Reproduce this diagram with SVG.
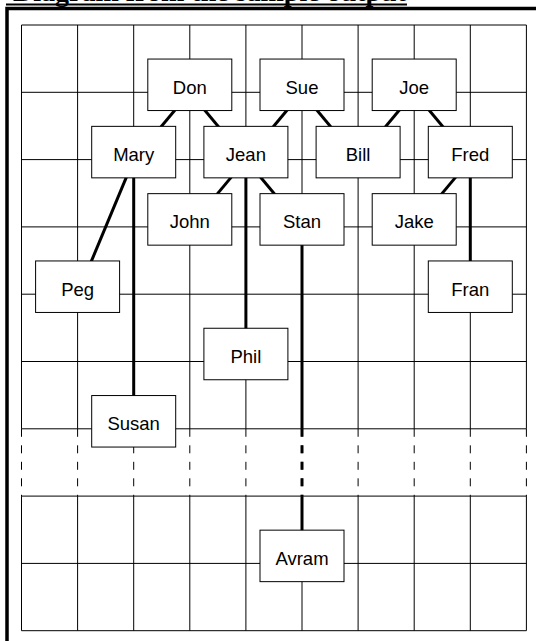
<svg xmlns="http://www.w3.org/2000/svg" width="536" height="641" viewBox="0 0 536 641">
<style>
.grid line{stroke:#000;stroke-width:1}
.dash line{stroke:#000;stroke-width:1;stroke-dasharray:8 8.5}
.conn line{stroke:#000;stroke-width:3}
.node rect{fill:#fff;stroke:#000;stroke-width:1}
.node text{font-family:"Liberation Sans",Arial,sans-serif;font-size:18.5px;text-anchor:middle;fill:#000}
.title{font-family:"Liberation Serif","Times New Roman",serif;font-weight:bold;font-size:28px;fill:#000}
</style>
<rect width="536" height="641" fill="#fff"/>
<text class="title" x="13" y="0.5">Diagram from the sample output</text>
<line x1="6" y1="4.5" x2="407" y2="4.5" stroke="#000" stroke-width="2"/>
<path d="M7 641 V8.5 H536" fill="none" stroke="#000" stroke-width="3.5"/>
<g id="grid" class="grid">
<line x1="21.5" y1="25" x2="526.4" y2="25"/>
<line x1="21.5" y1="92.3" x2="526.4" y2="92.3"/>
<line x1="21.5" y1="159.6" x2="526.4" y2="159.6"/>
<line x1="21.5" y1="226.9" x2="526.4" y2="226.9"/>
<line x1="21.5" y1="294.2" x2="526.4" y2="294.2"/>
<line x1="21.5" y1="361.5" x2="526.4" y2="361.5"/>
<line x1="21.5" y1="428.8" x2="526.4" y2="428.8"/>
<line x1="21.5" y1="496.1" x2="526.4" y2="496.1"/>
<line x1="21.5" y1="563.4" x2="526.4" y2="563.4"/>
<line x1="21.5" y1="630.7" x2="526.4" y2="630.7"/>
<line x1="21.5" y1="25" x2="21.5" y2="428.8"/><line x1="21.5" y1="496.1" x2="21.5" y2="630.7"/>
<line x1="77.6" y1="25" x2="77.6" y2="428.8"/><line x1="77.6" y1="496.1" x2="77.6" y2="630.7"/>
<line x1="133.7" y1="25" x2="133.7" y2="428.8"/><line x1="133.7" y1="496.1" x2="133.7" y2="630.7"/>
<line x1="189.8" y1="25" x2="189.8" y2="428.8"/><line x1="189.8" y1="496.1" x2="189.8" y2="630.7"/>
<line x1="245.9" y1="25" x2="245.9" y2="428.8"/><line x1="245.9" y1="496.1" x2="245.9" y2="630.7"/>
<line x1="302" y1="25" x2="302" y2="428.8"/><line x1="302" y1="496.1" x2="302" y2="630.7"/>
<line x1="358.1" y1="25" x2="358.1" y2="428.8"/><line x1="358.1" y1="496.1" x2="358.1" y2="630.7"/>
<line x1="414.2" y1="25" x2="414.2" y2="428.8"/><line x1="414.2" y1="496.1" x2="414.2" y2="630.7"/>
<line x1="470.3" y1="25" x2="470.3" y2="428.8"/><line x1="470.3" y1="496.1" x2="470.3" y2="630.7"/>
<line x1="526.4" y1="25" x2="526.4" y2="428.8"/><line x1="526.4" y1="496.1" x2="526.4" y2="630.7"/>
</g>
<g id="grid-dashed" class="dash">
<line x1="21.5" y1="428.8" x2="21.5" y2="496.1"/>
<line x1="77.6" y1="428.8" x2="77.6" y2="496.1"/>
<line x1="133.7" y1="428.8" x2="133.7" y2="496.1"/>
<line x1="189.8" y1="428.8" x2="189.8" y2="496.1"/>
<line x1="245.9" y1="428.8" x2="245.9" y2="496.1"/>
<line x1="302" y1="428.8" x2="302" y2="496.1"/>
<line x1="358.1" y1="428.8" x2="358.1" y2="496.1"/>
<line x1="414.2" y1="428.8" x2="414.2" y2="496.1"/>
<line x1="470.3" y1="428.8" x2="470.3" y2="496.1"/>
<line x1="526.4" y1="428.8" x2="526.4" y2="496.1"/>
</g>
<g id="connectors" class="conn">
<line x1="189.8" y1="92.3" x2="133.7" y2="159.6"/>
<line x1="189.8" y1="92.3" x2="245.9" y2="159.6"/>
<line x1="302" y1="92.3" x2="245.9" y2="159.6"/>
<line x1="302" y1="92.3" x2="358.1" y2="159.6"/>
<line x1="414.2" y1="92.3" x2="358.1" y2="159.6"/>
<line x1="414.2" y1="92.3" x2="470.3" y2="159.6"/>
<line x1="133.7" y1="159.6" x2="77.6" y2="294.2"/>
<line x1="133.7" y1="159.6" x2="133.7" y2="428.8"/>
<line x1="245.9" y1="159.6" x2="189.8" y2="226.9"/>
<line x1="245.9" y1="159.6" x2="302" y2="226.9"/>
<line x1="245.9" y1="159.6" x2="245.9" y2="361.5"/>
<line x1="470.3" y1="159.6" x2="414.2" y2="226.9"/>
<line x1="470.3" y1="159.6" x2="470.3" y2="294.2"/>
<line x1="302" y1="226.9" x2="302" y2="428.8"/>
<line x1="302" y1="428.8" x2="302" y2="496.1" stroke-dasharray="8 8.5"/>
<line x1="302" y1="496.1" x2="302" y2="563.4"/>
</g>
<g id="don" class="node"><rect x="147.8" y="59.05" width="84" height="51.5"/><text x="189.8" y="93.8">Don</text></g>
<g id="sue" class="node"><rect x="260" y="59.05" width="84" height="51.5"/><text x="302" y="93.8">Sue</text></g>
<g id="joe" class="node"><rect x="372.2" y="59.05" width="84" height="51.5"/><text x="414.2" y="93.8">Joe</text></g>
<g id="mary" class="node"><rect x="91.7" y="126.35" width="84" height="51.5"/><text x="133.7" y="161.1">Mary</text></g>
<g id="jean" class="node"><rect x="203.9" y="126.35" width="84" height="51.5"/><text x="245.9" y="161.1">Jean</text></g>
<g id="bill" class="node"><rect x="316.1" y="126.35" width="84" height="51.5"/><text x="358.1" y="161.1">Bill</text></g>
<g id="fred" class="node"><rect x="428.3" y="126.35" width="84" height="51.5"/><text x="470.3" y="161.1">Fred</text></g>
<g id="john" class="node"><rect x="147.8" y="193.65" width="84" height="51.5"/><text x="189.8" y="228.4">John</text></g>
<g id="stan" class="node"><rect x="260" y="193.65" width="84" height="51.5"/><text x="302" y="228.4">Stan</text></g>
<g id="jake" class="node"><rect x="372.2" y="193.65" width="84" height="51.5"/><text x="414.2" y="228.4">Jake</text></g>
<g id="peg" class="node"><rect x="35.6" y="260.95" width="84" height="51.5"/><text x="77.6" y="295.7">Peg</text></g>
<g id="fran" class="node"><rect x="428.3" y="260.95" width="84" height="51.5"/><text x="470.3" y="295.7">Fran</text></g>
<g id="phil" class="node"><rect x="203.9" y="328.25" width="84" height="51.5"/><text x="245.9" y="363">Phil</text></g>
<g id="susan" class="node"><rect x="91.7" y="395.55" width="84" height="51.5"/><text x="133.7" y="430.3">Susan</text></g>
<g id="avram" class="node"><rect x="260" y="530.15" width="84" height="51.5"/><text x="302" y="564.9">Avram</text></g>
</svg>
